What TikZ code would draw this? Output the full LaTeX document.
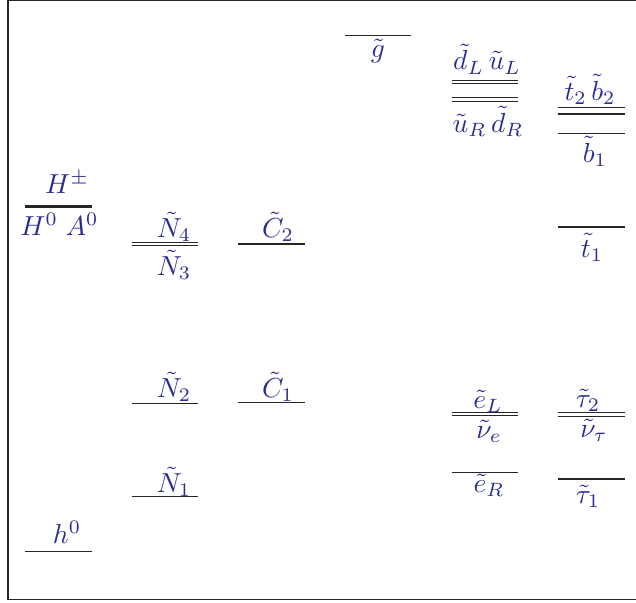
\documentclass[tikz,border=0pt]{standalone}
\usepackage{graphicx}
\definecolor{lbl}{RGB}{42,45,145}
\newcommand{\lbltxt}[1]{\scalebox{2.75}{$#1$}}
\begin{document}
\begin{tikzpicture}[x=1pt,y=-1pt,
  lv/.style={line width=1.3pt,draw=black!85},
  thick lv/.style={line width=3pt,draw=black!85},
  thin lv/.style={line width=1pt,draw=black!85},
  lab/.style={text=lbl,anchor=base,inner sep=0pt}]
\useasboundingbox (0,0) rectangle (636,602);
% frame (open on the right)
\draw[line width=1.5pt,black!85] (640,0.75) -- (8,0.75) -- (8,599.5) -- (640,599.5);
% Higgs
\draw[thick lv] (25,206) -- (92,206);
\node[lab] (Hpm) at (67,193) {\lbltxt{H^{\pm}}};
\node[lab] (H0A0) at (59.5,235) {\lbltxt{H^{0}\;A^{0}}};
\draw[lv] (25,551.5) -- (92,551.5);
\node[lab] (h0) at (67,543.5) {\lbltxt{h^{0}}};
% neutralinos
\draw[thin lv] (132,242.5) -- (198,242.5);
\draw[thin lv] (132,245.5) -- (198,245.5);
\node[lab] (N4) at (174,237) {\lbltxt{\tilde{N}_4}};
\node[lab] (N3) at (174,275) {\lbltxt{\tilde{N}_3}};
\draw[lv] (132,403.5) -- (198,403.5);
\node[lab] (N2) at (174,397) {\lbltxt{\tilde{N}_2}};
\draw[lv] (132,496.5) -- (198,496.5);
\node[lab] (N1) at (174,492) {\lbltxt{\tilde{N}_1}};
% charginos
\draw[lv] (238,244) -- (305,244);
\node[lab] (C2) at (278,237) {\lbltxt{\tilde{C}_2}};
\draw[lv] (238,402.5) -- (305,402.5);
\node[lab] (C1) at (278,397) {\lbltxt{\tilde{C}_1}};
% gluino
\draw[lv] (345,35.5) -- (411,35.5);
\node[lab] (g) at (378,57) {\lbltxt{\tilde{g}}};
% light squarks
\draw[thin lv] (452,80.5) -- (518,80.5);
\draw[thin lv] (452,83.5) -- (518,83.5);
\draw[thin lv] (452,97) -- (518,97);
\draw[thin lv] (452,101.5) -- (518,101.5);
\node[lab] (dLuL) at (487,70) {\lbltxt{\tilde{d}_L\,\tilde{u}_L}};
\node[lab] (uRdR) at (488,132) {\lbltxt{\tilde{u}_R\,\tilde{d}_R}};
% third generation squarks
\draw[thin lv] (558,107.5) -- (625,107.5);
\draw[lv] (558,114) -- (625,114);
\node[lab] (t2b2) at (590,100) {\lbltxt{\tilde{t}_2\,\tilde{b}_2}};
\draw[lv] (558,133.5) -- (625,133.5);
\node[lab] (b1) at (595,162) {\lbltxt{\tilde{b}_1}};
\draw[lv] (558,227) -- (625,227);
\node[lab] (t1) at (592,257) {\lbltxt{\tilde{t}_1}};
% sleptons
\draw[thin lv] (452,412.5) -- (518,412.5);
\draw[thin lv] (452,415.5) -- (518,415.5);
\node[lab] (eL) at (488,408) {\lbltxt{\tilde{e}_L}};
\node[lab] (nue) at (489,438) {\lbltxt{\tilde{\nu}_e}};
\draw[lv] (452,472.5) -- (518,472.5);
\node[lab] (eR) at (489,492) {\lbltxt{\tilde{e}_R}};
\draw[thin lv] (558,412.5) -- (625,412.5);
\draw[thin lv] (558,416.5) -- (625,416.5);
\node[lab] (tau2) at (588,407) {\lbltxt{\tilde{\tau}_2}};
\node[lab] (nutau) at (594,437) {\lbltxt{\tilde{\nu}_\tau}};
\draw[lv] (558,479) -- (625,479);
\node[lab] (tau1) at (588,503) {\lbltxt{\tilde{\tau}_1}};
\end{tikzpicture}
\end{document}
